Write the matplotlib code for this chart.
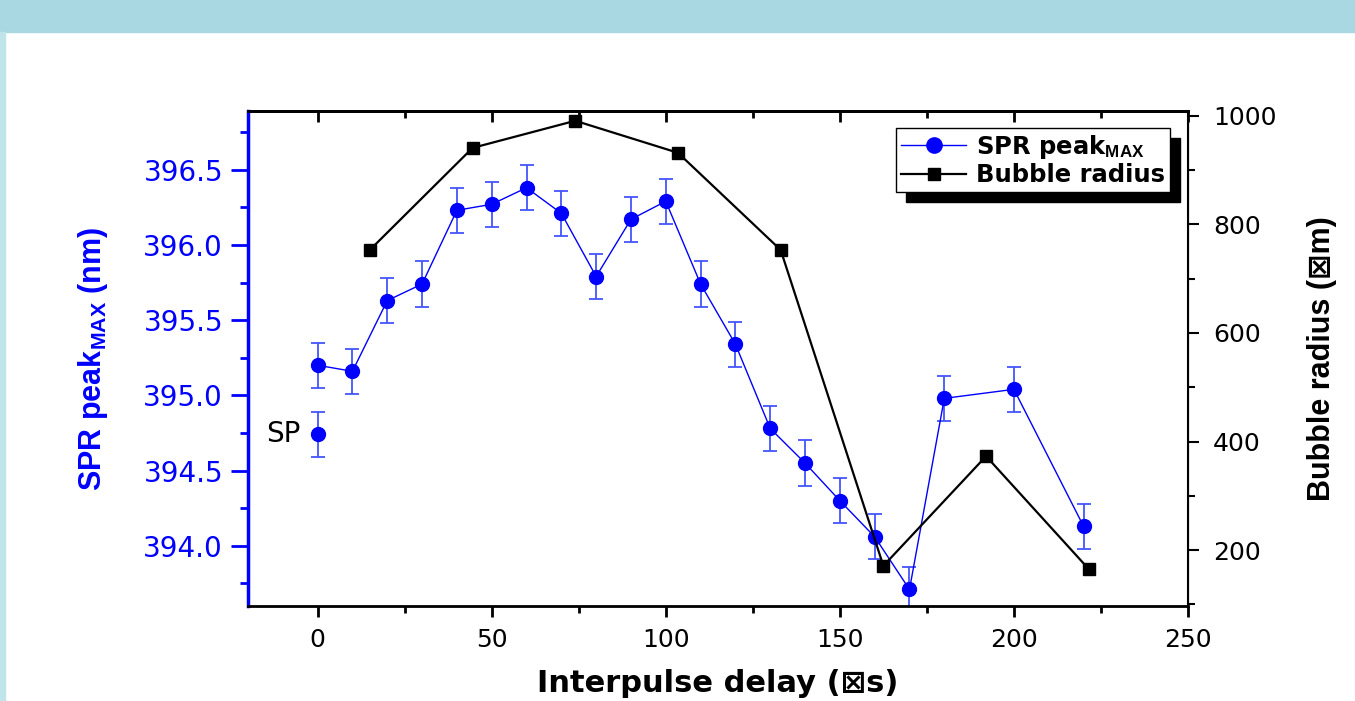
import matplotlib
matplotlib.use("Agg")
import matplotlib.pyplot as plt
from matplotlib.patches import Rectangle
from matplotlib.lines import Line2D
import numpy as np

plt.rcParams['font.family'] = ['DejaVu Sans']
plt.rcParams['mathtext.fontset'] = 'custom'
plt.rcParams['mathtext.bf'] = 'Liberation Sans:bold'
plt.rcParams['mathtext.default'] = 'bf'

# SPR peak data (blue, left axis)
delay = [0, 10, 20, 30, 40, 50, 60, 70, 80, 90, 100, 110, 120, 130, 140, 150, 160, 170, 180, 200, 220]
spr_peak = [395.20, 395.16, 395.63, 395.74, 396.23, 396.27, 396.38, 396.21, 395.79, 396.17, 396.29,
            395.74, 395.34, 394.78, 394.55, 394.30, 394.06, 393.71, 394.98, 395.04, 394.13]
spr_err = [0.15] * len(delay)
sp_delay = [0]
sp_peak = [394.74]
sp_err = [0.15]

# bubble radius (black, right axis)
bubble_delay = [15, 44.5, 74, 103.5, 133, 162.5, 192, 221.5]
bubble_radius = [753, 941, 991, 932, 753, 171, 373, 165]

blue = '#0000ff'
err_blue = '#4455ff'

fig = plt.figure(figsize=(13.55, 7.01), dpi=100)
fig.patches.append(Rectangle((0, 1 - 32/701), 1, 32/701, transform=fig.transFigure,
                             color='#a9d8e2', zorder=0))
fig.patches.append(Rectangle((0, 0), 5/1355, 1 - 32/701, transform=fig.transFigure,
                             color='#bfe4ea', zorder=0))

ax = fig.add_axes([248/1355, 95/701, 940/1355, 495/701])
ax.errorbar(delay, spr_peak, yerr=spr_err, color=blue, ecolor=err_blue, lw=1, elinewidth=1.3,
            capsize=5, capthick=1.3, marker='o', ms=10, mec=blue, mfc=blue)
ax.errorbar(sp_delay, sp_peak, yerr=sp_err, color=blue, ecolor=err_blue, lw=0, elinewidth=1.3,
            capsize=5, capthick=1.3, marker='o', ms=10, mec=blue, mfc=blue)
ax.text(-5, sp_peak[0], 'SP', ha='right', va='center', fontsize=20)

ax.set_xticks(np.arange(0, 251, 50))
ax.set_xticks(np.arange(-25, 251, 25), minor=True)
ax.set_yticks(np.arange(394.0, 396.51, 0.5))
ax.set_yticks(np.arange(393.75, 396.9, 0.25), minor=True)
ax.set_xlim(-20, 250)
ax.set_ylim(393.6, 396.89)
ax.tick_params(axis='y', which='major', colors=blue, labelsize=20, length=12, width=2, pad=6)
ax.tick_params(axis='y', which='minor', colors=blue, length=6, width=2)
ax.tick_params(axis='x', which='major', labelsize=18, length=8, width=2, pad=8)
ax.tick_params(axis='x', which='minor', length=5, width=2)
ax.spines['left'].set_color(blue)
ax.spines['left'].set_linewidth(2.5)
ax.spines['bottom'].set_linewidth(2)
ax.spines['top'].set_linewidth(2)
ax.set_ylabel(r'SPR peak$_{MAX}$ (nm)', color=blue, fontsize=22, fontweight='bold',
              family='Liberation Sans', labelpad=24)
ax.set_xlabel('Interpulse delay (⊠s)', fontsize=22, fontweight='bold', labelpad=12)

top = ax.secondary_xaxis('top')
top.set_xticks(np.arange(0, 251, 50))
top.set_xticks(np.arange(-25, 251, 25), minor=True)
top.tick_params(which='major', direction='in', length=8, width=2, labeltop=False)
top.tick_params(which='minor', direction='in', length=5, width=2)
top.spines['top'].set_linewidth(2)

ax2 = ax.twinx()
ax2.plot(bubble_delay, bubble_radius, color='black', lw=1.6, marker='s', ms=9)
ax2.set_yticks(np.arange(200, 1001, 200))
ax2.set_yticks(np.arange(100, 1001, 100), minor=True)
ax2.set_ylim(97, 1009)
ax2.tick_params(axis='y', which='major', labelsize=18, length=8, width=1.5, pad=10)
ax2.tick_params(axis='y', which='minor', length=5, width=1.5)
ax2.spines['right'].set_linewidth(1.5)
ax2.spines['left'].set_visible(False)
ax2.set_ylabel('Bubble radius (⊠m)', fontsize=22, fontweight='bold',
               family=['Liberation Sans', 'DejaVu Sans'], labelpad=22)

handles = [Line2D([], [], color=blue, lw=1, marker='o', ms=11),
           Line2D([], [], color='black', lw=1.6, marker='s', ms=9)]
labels = [r'SPR peak$_{MAX}$', 'Bubble radius']
leg = ax2.legend(handles, labels, loc='upper right', bbox_to_anchor=(1 - 18/940, 1 - 17/495),
                 borderaxespad=0, fancybox=False, framealpha=1, edgecolor='black',
                 prop={'weight': 'bold', 'size': 17.5}, handlelength=2.7, handletextpad=0.4,
                 borderpad=0.2, labelspacing=0.1)
leg.get_frame().set_linewidth(1)

fig.canvas.draw()
bb = leg.get_window_extent().transformed(fig.transFigure.inverted())
shadow = Rectangle((bb.x0 + 10/1355, bb.y0 - 10/701), bb.width, bb.height,
                   transform=fig.transFigure, color='black', zorder=4)
fig.patches.append(shadow)
leg.set_zorder(10)
ax2.set_zorder(5)
ax.set_zorder(4)
ax2.patch.set_visible(False)

fig.savefig('out.png', dpi=100)
